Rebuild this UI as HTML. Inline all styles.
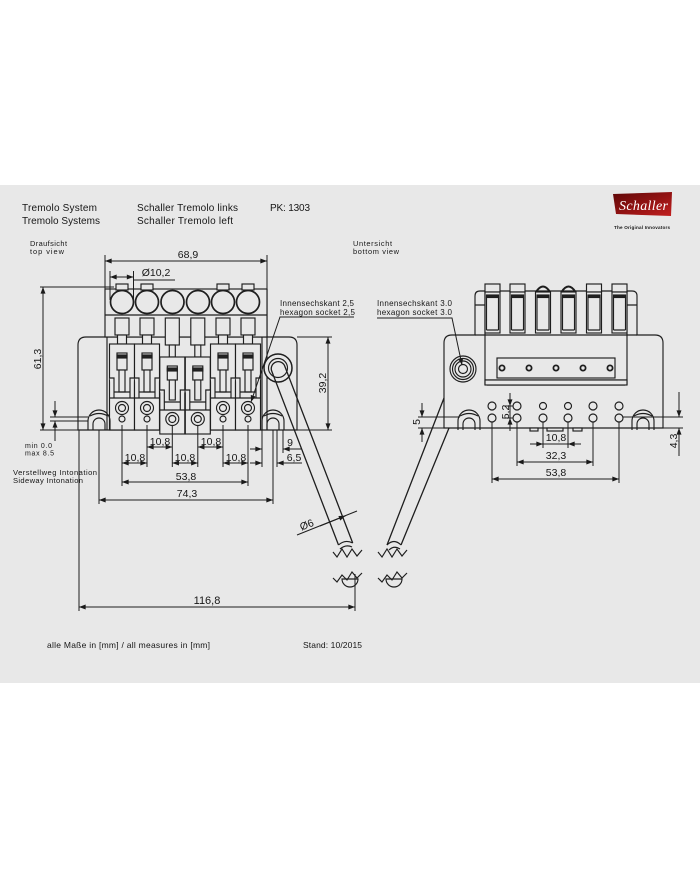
<!DOCTYPE html>
<html><head><meta charset="utf-8"><style>
html,body{margin:0;padding:0;background:#fff;}
svg{display:block;}
text{font-family:"Liberation Sans",sans-serif;fill:#161616;}
</style></head><body>
<svg width="700" height="869" viewBox="0 0 700 869" xmlns="http://www.w3.org/2000/svg">
<defs>
<marker id="a" viewBox="0 0 8 6" refX="8" refY="3" markerWidth="7" markerHeight="5" markerUnits="userSpaceOnUse" orient="auto-start-reverse"><path d="M0,0 L8,3 L0,6z" fill="#1a1a1a"/></marker>
<linearGradient id="lg" x1="0" y1="0" x2="1" y2="1"><stop offset="0" stop-color="#5e0808"/><stop offset="0.6" stop-color="#9a1414"/><stop offset="1" stop-color="#c22020"/></linearGradient>
<g id="so">
 <rect x="-7" y="318" width="14" height="17"/>
 <rect x="-4.5" y="335" width="9" height="9"/>
 <rect x="-12.5" y="344" width="25" height="86"/>
 <rect x="-5" y="353" width="10" height="17"/>
 <rect x="-5" y="355" width="10" height="3" fill="#222"/>
 <rect x="-3" y="370" width="6" height="22"/>
 <path d="M-12.5,378 H-8 V398 M12.5,378 H8 V398 M-12.5,398 H12.5 M-8,392 H8"/>
 <circle cx="0" cy="408" r="6.5"/>
 <circle cx="0" cy="408" r="3.5"/>
 <circle cx="0" cy="419" r="3"/>
</g>
<g id="sm">
 <rect x="-7" y="318" width="14" height="27"/>
 <rect x="-3" y="345" width="6" height="12"/>
 <rect x="-12.5" y="357" width="25" height="77"/>
 <rect x="-5" y="366" width="10" height="14"/>
 <rect x="-5" y="368" width="10" height="3" fill="#222"/>
 <rect x="-3" y="380" width="6" height="20"/>
 <path d="M-12.5,390 H-8 V410 M12.5,390 H8 V410 M-12.5,410 H12.5 M-8,402 H8"/>
 <circle cx="0" cy="419" r="6.5"/>
 <circle cx="0" cy="419" r="3.5"/>
</g>
<g id="st">
 <rect x="-7.5" y="292" width="15" height="41"/>
 <rect x="-6" y="295" width="12" height="2.5" fill="#222"/>
 <path d="M-6,297.5 V330 M6,297.5 V330 M-6,330 H6"/>
</g>
<g id="arch">
 <path d="M-11,430 L-11,421 A11,11 0 0 1 11,421 L11,430"/>
 <path d="M-6,430 L-6,424 A6,6 0 0 1 6,424 L6,430"/>
 <path d="M-9,416 Q0,411 9,416"/>
</g>
</defs>

<rect x="0" y="185" width="700" height="498" fill="#e8e8e8"/>

<text x="22" y="211" font-size="10" textLength="75">Tremolo System</text>
<text x="22" y="224" font-size="10" textLength="78">Tremolo Systems</text>
<text x="137" y="211" font-size="10" textLength="101">Schaller Tremolo links</text>
<text x="137" y="224" font-size="10" textLength="96">Schaller Tremolo left</text>
<text x="270" y="211" font-size="10" textLength="40">PK: 1303</text>
<text x="30" y="246" font-size="7.4" textLength="37">Draufsicht</text>
<text x="30" y="254" font-size="7.4" textLength="34">top view</text>
<text x="353" y="246" font-size="7.4" textLength="39">Untersicht</text>
<text x="353" y="254" font-size="7.4" textLength="46">bottom view</text>

<polygon points="613,194 672,192 671,216 616,214" fill="url(#lg)"/>
<text x="619" y="210" font-size="14" font-style="italic" style="font-family:'Liberation Serif',serif;fill:#fff" textLength="49">Schaller</text>
<text x="614" y="229" font-size="4.6" font-weight="bold" textLength="56">The Original Innovators</text>

<g stroke="#1e1e1e" fill="#e8e8e8" stroke-width="1.15">
<path d="M78,430 L78,345 Q78,337 86,337 L289,337 Q297,337 297,345 L297,430 Z"/>
<path d="M107,337 V430 M267,289 V430 M262,337 V430" fill="none"/>
<rect x="105" y="289" width="162" height="48"/>
<line x1="105" y1="315" x2="267" y2="315"/>
<rect x="116" y="284" width="12" height="6"/>
<rect x="141" y="284" width="12" height="6"/>
<rect x="217" y="284" width="12" height="6"/>
<rect x="242" y="284" width="12" height="6"/>
<g stroke-width="1.7">
<circle cx="122" cy="302" r="11.5"/>
<circle cx="147" cy="302" r="11.5"/>
<circle cx="172.5" cy="302" r="11.5"/>
<circle cx="198" cy="302" r="11.5"/>
<circle cx="223" cy="302" r="11.5"/>
<circle cx="248" cy="302" r="11.5"/>
</g>
<use href="#so" x="122"/>
<use href="#so" x="147"/>
<use href="#sm" x="172.3"/>
<use href="#sm" x="197.8"/>
<use href="#so" x="223"/>
<use href="#so" x="248"/>
<use href="#arch" x="99" fill="none"/>
<use href="#arch" x="273" fill="none"/>
<circle cx="278" cy="368" r="14" stroke-width="1.5"/>
<path d="M284.5,365.5 L352.7,543 M271.5,370.5 L338.5,545 M271.5,370.5 A7,7 0 0 1 284.5,365.5" fill="none" stroke-width="1.3"/>
<circle cx="278" cy="368" r="9.5" fill="none"/>
<path d="M338.5,545 Q345,539 352.7,543 M340,549 Q346,544 352,547" fill="none"/>
<path d="M333,552 L337,557 L342,549 L347,557 L352,549 L357,556 L362,550" fill="none"/>
<path d="M333,578 L337,582 L342,575 L347,580 L352,572 L357,578 L362,573" fill="none"/>
<path d="M342,579 A8,8 0 0 0 358,579 Z" fill="none"/>

<path d="M444,428 L444,343 Q444,335 452,335 L475,335 L475,296 Q475,291 480,291 L632,291 Q637,291 637,296 L637,335 L655,335 Q663,335 663,343 L663,428 Z"/>
<path d="M475,305 H485 M627,305 H637 M485,291 V385 M627,291 V385 M475,335 H637 M485,380 H627 M487,385 H625" fill="none"/>
<rect x="485" y="380" width="142" height="5"/>
<rect x="485" y="284" width="15" height="8"/>
<rect x="510" y="284" width="15" height="8"/>
<path d="M536,292 Q543,281 550,292" fill="none" stroke-width="2"/>
<path d="M561.5,292 Q568.5,281 575.5,292" fill="none" stroke-width="2"/>
<rect x="586.5" y="284" width="15" height="8"/>
<rect x="612" y="284" width="15" height="8"/>
<use href="#st" x="492.5"/>
<use href="#st" x="517.5"/>
<use href="#st" x="543"/>
<use href="#st" x="568.5"/>
<use href="#st" x="594"/>
<use href="#st" x="619.5"/>
<rect x="497" y="358" width="118" height="20"/>
<g fill="#e8e8e8" stroke-width="1.8">
<circle cx="502" cy="368" r="2.6"/>
<circle cx="529" cy="368" r="2.6"/>
<circle cx="556" cy="368" r="2.6"/>
<circle cx="583" cy="368" r="2.6"/>
<circle cx="610" cy="368" r="2.6"/>
</g>
<circle cx="463" cy="369" r="13"/>
<circle cx="463" cy="369" r="10.5"/>
<circle cx="463" cy="369" r="8"/>
<circle cx="463" cy="369" r="4.5"/>
<g>
<circle cx="492" cy="406" r="4"/><circle cx="517" cy="406" r="4"/><circle cx="543" cy="406" r="3.5"/><circle cx="568" cy="406" r="3.5"/><circle cx="593" cy="406" r="4"/><circle cx="619" cy="406" r="4"/>
<circle cx="492" cy="418" r="4"/><circle cx="517" cy="418" r="4"/><circle cx="543" cy="418" r="4"/><circle cx="568" cy="418" r="4"/><circle cx="593" cy="418" r="4"/><circle cx="619" cy="418" r="4"/>
</g>
<use href="#arch" x="469" fill="none"/>
<use href="#arch" x="643" fill="none"/>
<rect x="530" y="428" width="8" height="3"/>
<rect x="547" y="428" width="16" height="3"/>
<rect x="573" y="428" width="9" height="3"/>
<path d="M444,398 L387,545 M449,428 L401,545" fill="none" stroke-width="1.3"/>
<path d="M387,545 Q394,538 401,545 M389,550 Q394,545 400,549" fill="none"/>
<path d="M378,552 L382,557 L387,549 L392,557 L397,549 L402,556 L407,550" fill="none"/>
<path d="M378,578 L382,582 L387,575 L392,580 L397,572 L402,578 L407,573" fill="none"/>
<path d="M386,579 A8,8 0 0 0 402,579 Z" fill="none"/>
</g>

<g stroke="#1e1e1e" stroke-width="1" fill="none">
<path d="M105,255 V289 M267,255 V289 M110,271 V300 M133.5,271 V300 M40,287 H114 M40,430 H78 M297,337 H332 M297,430 H332"/>
<path d="M122,425 V486 M147,425 V467 M172.3,426 V467 M197.8,426 V467 M223,425 V467 M248,425 V486 M99,430 V504 M273,430 V504 M79,430 V611 M355,574 V611 M262,430 V467 M277,430 V467 M283,430 V453"/>
<path d="M50,417 H88 M50,421 H88"/>
<line x1="105" y1="261" x2="267" y2="261" marker-start="url(#a)" marker-end="url(#a)"/>
<line x1="110" y1="277" x2="133.5" y2="277" marker-start="url(#a)" marker-end="url(#a)"/>
<line x1="133.5" y1="280" x2="175" y2="280"/>
<line x1="43" y1="287" x2="43" y2="430" marker-start="url(#a)" marker-end="url(#a)"/>
<line x1="328" y1="337" x2="328" y2="430" marker-start="url(#a)" marker-end="url(#a)"/>
<line x1="147" y1="447" x2="172.3" y2="447" marker-start="url(#a)" marker-end="url(#a)"/>
<line x1="197.8" y1="447" x2="223" y2="447" marker-start="url(#a)" marker-end="url(#a)"/>
<line x1="122" y1="463" x2="147" y2="463" marker-start="url(#a)" marker-end="url(#a)"/>
<line x1="172.3" y1="463" x2="197.8" y2="463" marker-start="url(#a)" marker-end="url(#a)"/>
<line x1="223" y1="463" x2="248" y2="463" marker-start="url(#a)" marker-end="url(#a)"/>
<line x1="250" y1="449" x2="262" y2="449" marker-end="url(#a)"/>
<line x1="302" y1="449" x2="283" y2="449" marker-end="url(#a)"/>
<line x1="250" y1="463" x2="262" y2="463" marker-end="url(#a)"/>
<line x1="302" y1="463" x2="277" y2="463" marker-end="url(#a)"/>
<line x1="122" y1="482" x2="248" y2="482" marker-start="url(#a)" marker-end="url(#a)"/>
<line x1="99" y1="500" x2="273" y2="500" marker-start="url(#a)" marker-end="url(#a)"/>
<line x1="79" y1="607" x2="355" y2="607" marker-start="url(#a)" marker-end="url(#a)"/>
<line x1="55" y1="401" x2="55" y2="417" marker-end="url(#a)"/>
<line x1="55" y1="441" x2="55" y2="421" marker-end="url(#a)"/>
<line x1="297" y1="535" x2="357" y2="511"/>
<line x1="320" y1="526" x2="345.5" y2="515.8" marker-end="url(#a)"/>
<path d="M354,317 H280 L251,402" marker-end="url(#a)"/>
<path d="M377,318 H452 L462,365" marker-end="url(#a)"/>
<path d="M492,422 V483 M517,422 V466 M543,422 V448 M568,422 V448 M593,422 V466 M619,422 V483"/>
<path d="M418,417 H460 M418,428 H444 M505,406 H513 M505,418 H513 M623,417 H683 M663,428 H683"/>
<line x1="530" y1="444" x2="543" y2="444" marker-end="url(#a)"/>
<line x1="581" y1="444" x2="568" y2="444" marker-end="url(#a)"/>
<line x1="543" y1="444" x2="568" y2="444"/>
<line x1="517" y1="462" x2="593" y2="462" marker-start="url(#a)" marker-end="url(#a)"/>
<line x1="492" y1="479" x2="619" y2="479" marker-start="url(#a)" marker-end="url(#a)"/>
<line x1="422" y1="403" x2="422" y2="417" marker-end="url(#a)"/>
<line x1="422" y1="442" x2="422" y2="428" marker-end="url(#a)"/>
<line x1="510" y1="393" x2="510" y2="406" marker-end="url(#a)"/>
<line x1="510" y1="431" x2="510" y2="418" marker-end="url(#a)"/>
<line x1="510" y1="406" x2="510" y2="418"/>
<line x1="679" y1="392" x2="679" y2="417" marker-end="url(#a)"/>
<line x1="679" y1="456" x2="679" y2="428" marker-end="url(#a)"/>
</g>

<g font-size="10.5" text-anchor="middle">
<text x="188" y="258">68,9</text>
<text x="156" y="276">Ø10,2</text>
<text transform="translate(41,359) rotate(-90)">61,3</text>
<text transform="translate(326,383) rotate(-90)">39,2</text>
<text x="160" y="445">10,8</text>
<text x="211" y="445">10,8</text>
<text x="135" y="461">10,8</text>
<text x="185" y="461">10,8</text>
<text x="236" y="461">10,8</text>
<text x="290" y="446">9</text>
<text x="294" y="461">6,5</text>
<text x="186" y="480">53,8</text>
<text x="187" y="497">74,3</text>
<text x="207" y="604" font-size="11">116,8</text>
<text transform="translate(308,528) rotate(-22)">Ø6</text>
<text x="556" y="441">10,8</text>
<text x="556" y="459">32,3</text>
<text x="556" y="476">53,8</text>
<text transform="translate(420,422) rotate(-90)">5</text>
<text transform="translate(509,412) rotate(-90)">5,2</text>
<text transform="translate(677,441) rotate(-90)">4,3</text>
</g>

<text x="280" y="306" font-size="8" textLength="74">Innensechskant  2,5</text>
<text x="280" y="315" font-size="8" textLength="75">hexagon socket 2,5</text>
<text x="377" y="306" font-size="8" textLength="75">Innensechskant  3.0</text>
<text x="377" y="315" font-size="8" textLength="75">hexagon socket 3.0</text>
<text x="25" y="448" font-size="7" textLength="27">min 0.0</text>
<text x="25" y="455.5" font-size="7" textLength="29">max 8.5</text>
<text x="13" y="475" font-size="7.6" textLength="84">Verstellweg Intonation</text>
<text x="13" y="483" font-size="7.6" textLength="70">Sideway Intonation</text>
<text x="47" y="648" font-size="8.5" textLength="163">alle Maße in [mm] / all measures in [mm]</text>
<text x="303" y="648" font-size="8.5" textLength="59">Stand: 10/2015</text>
</svg>
</body></html>
